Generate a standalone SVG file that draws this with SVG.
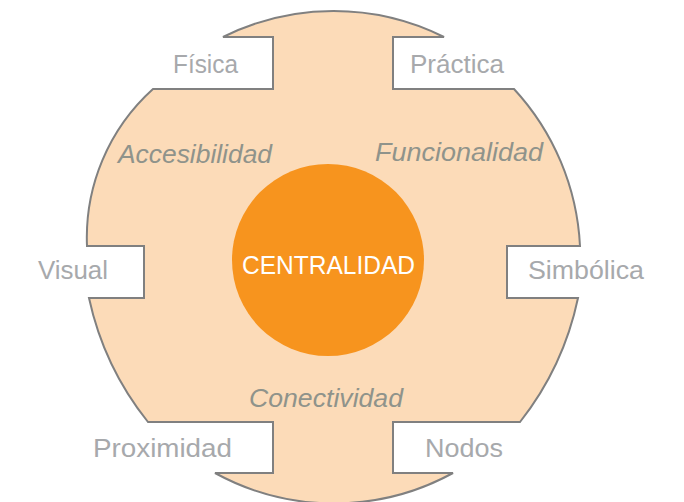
<svg xmlns="http://www.w3.org/2000/svg" width="684" height="502" viewBox="0 0 684 502">
  <style>
    .outline { fill: #FCDBB8; stroke: #808080; stroke-width: 2; stroke-linejoin: miter; }
    .core { fill: #F7941E; }
    .lbl { font-family: "Liberation Sans", Arial, sans-serif; font-size: 25px; fill: #A7A9AC; }
    .dim { font-family: "Liberation Sans", Arial, sans-serif; font-size: 25px; font-style: italic; fill: #8F938B; }
    .ctr { font-family: "Liberation Sans", Arial, sans-serif; font-size: 26px; fill: #FFFFFF; }
  </style>
  <rect width="684" height="502" fill="#FFFFFF"/>
  <g id="outline">
    <path class="outline" d="M223,37 A248,248 0 0 1 444,37 L393,37 L393,89 L514,89 A250,250 0 0 1 580,246 L507,246 L507,298 L578,298 A300,300 0 0 1 520,422 L393,422 L393,473 L453,473 A248,248 0 0 1 215,473 L273,473 L273,422 L148,422 A300,300 0 0 1 89,298 L144,298 L144,246 L87,246 A200,200 0 0 1 153,89 L273,89 L273,37 Z"/>
  </g>
  <g id="centralidad">
    <circle class="core" cx="328" cy="260" r="96"/>
    <text class="ctr" x="242" y="274" textLength="173" lengthAdjust="spacingAndGlyphs">CENTRALIDAD</text>
  </g>
  <g id="accesibilidad"><text class="dim" x="118" y="163" textLength="154" lengthAdjust="spacingAndGlyphs">Accesibilidad</text></g>
  <g id="funcionalidad"><text class="dim" x="375" y="161" textLength="168" lengthAdjust="spacingAndGlyphs">Funcionalidad</text></g>
  <g id="conectividad"><text class="dim" x="249" y="407" textLength="154" lengthAdjust="spacingAndGlyphs">Conectividad</text></g>
  <g id="fisica"><text class="lbl" x="173" y="73" textLength="65" lengthAdjust="spacingAndGlyphs">Física</text></g>
  <g id="practica"><text class="lbl" x="410" y="73" textLength="94" lengthAdjust="spacingAndGlyphs">Práctica</text></g>
  <g id="visual"><text class="lbl" x="38" y="279" textLength="70" lengthAdjust="spacingAndGlyphs">Visual</text></g>
  <g id="simbolica"><text class="lbl" x="528" y="279" textLength="116" lengthAdjust="spacingAndGlyphs">Simbólica</text></g>
  <g id="proximidad"><text class="lbl" x="93" y="457" textLength="139" lengthAdjust="spacingAndGlyphs">Proximidad</text></g>
  <g id="nodos"><text class="lbl" x="425" y="457" textLength="78" lengthAdjust="spacingAndGlyphs">Nodos</text></g>
</svg>
